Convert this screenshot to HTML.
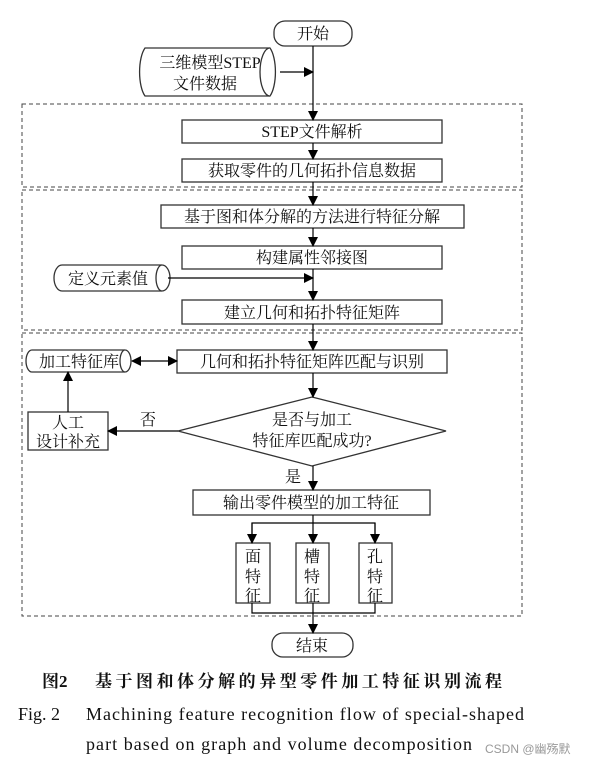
<!DOCTYPE html>
<html><head><meta charset="utf-8"><style>
html,body{margin:0;padding:0;background:#fff;}
svg{display:block;}
text{font-family:"Liberation Serif","Noto Serif CJK SC","Noto Sans CJK SC",serif;fill:#111;}
</style></head><body>
<svg width="601" height="768" viewBox="0 0 601 768" xmlns="http://www.w3.org/2000/svg">
<defs>
<marker id="a" markerWidth="10" markerHeight="10" refX="9" refY="5" orient="auto" markerUnits="userSpaceOnUse">
<path d="M0,0 L10,5 L0,10 z" fill="#000"/></marker>
<marker id="as" markerWidth="10" markerHeight="10" refX="1" refY="5" orient="auto" markerUnits="userSpaceOnUse">
<path d="M10,0 L0,5 L10,10 z" fill="#000"/></marker>
</defs>
<g fill="none" stroke="#444" stroke-width="1" stroke-dasharray="4,3">
<rect x="22" y="104" width="500" height="83"/>
<rect x="22" y="190" width="500" height="140"/>
<rect x="22" y="333" width="500" height="283"/>
</g>
<g fill="#fff" stroke="#333" stroke-width="1.3">
<rect x="274" y="21" width="78" height="25" rx="11"/>
<path d="M145,48 L270,48 A10,27 0 0 1 270,96 L145,96 A10,27 0 0 1 145,48 Z"/>
<path d="M270,48 A10,24 0 0 0 270,96"/>
<rect x="182" y="120" width="260" height="23"/>
<rect x="182" y="159" width="260" height="23"/>
<rect x="161" y="205" width="303" height="23"/>
<rect x="182" y="246" width="260" height="23"/>
<path d="M62,265 L162,265 A8,13 0 0 1 162,291 L62,291 A8,13 0 0 1 62,265 Z"/>
<path d="M162,265 A6,13 0 0 0 162,291"/>
<rect x="182" y="300" width="260" height="24"/>
<rect x="177" y="350" width="270" height="23"/>
<path d="M32,350 L125,350 A6,11 0 0 1 125,372 L32,372 A6,11 0 0 1 32,350 Z"/>
<path d="M125,350 A5,11 0 0 0 125,372"/>
<polygon points="312,397 446,431 312,466 178,431"/>
<rect x="28" y="412" width="80" height="38"/>
<rect x="193" y="490" width="237" height="25"/>
<rect x="236" y="543" width="34" height="60"/>
<rect x="296" y="543" width="33" height="60"/>
<rect x="359" y="543" width="33" height="60"/>
<rect x="272" y="633" width="81" height="24" rx="11"/>
</g>
<g stroke="#000" stroke-width="1.2" fill="none">
<line x1="313" y1="46" x2="313" y2="120" marker-end="url(#a)"/>
<line x1="280" y1="72" x2="313" y2="72" marker-end="url(#a)"/>
<line x1="313" y1="143" x2="313" y2="159" marker-end="url(#a)"/>
<line x1="313" y1="182" x2="313" y2="205" marker-end="url(#a)"/>
<line x1="313" y1="228" x2="313" y2="246" marker-end="url(#a)"/>
<line x1="313" y1="269" x2="313" y2="300" marker-end="url(#a)"/>
<line x1="168" y1="278" x2="313" y2="278" marker-end="url(#a)"/>
<line x1="313" y1="324" x2="313" y2="350" marker-end="url(#a)"/>
<line x1="132" y1="361" x2="177" y2="361" marker-start="url(#as)" marker-end="url(#a)"/>
<line x1="313" y1="373" x2="313" y2="397" marker-end="url(#a)"/>
<line x1="178" y1="431" x2="108" y2="431" marker-end="url(#a)"/>
<line x1="68" y1="412" x2="68" y2="372" marker-end="url(#a)"/>
<line x1="313" y1="466" x2="313" y2="490" marker-end="url(#a)"/>
<line x1="313" y1="515" x2="313" y2="543" marker-end="url(#a)"/>
<polyline points="252,543 252,523 375,523 375,543"/>
<line x1="252" y1="523" x2="252" y2="543" marker-end="url(#a)"/>
<line x1="375" y1="523" x2="375" y2="543" marker-end="url(#a)"/>
<polyline points="252,603 252,613 375,613 375,603"/>
<line x1="313" y1="603" x2="313" y2="633" marker-end="url(#a)"/>
</g>
<g font-size="16" text-anchor="middle">
<text x="313" y="39">开始</text>
<text x="210" y="68">三维模型STEP</text>
<text x="205" y="89">文件数据</text>
<text x="312" y="137">STEP文件解析</text>
<text x="312" y="176">获取零件的几何拓扑信息数据</text>
<text x="312" y="222">基于图和体分解的方法进行特征分解</text>
<text x="312" y="263">构建属性邻接图</text>
<text x="108" y="284">定义元素值</text>
<text x="312" y="318">建立几何和拓扑特征矩阵</text>
<text x="312" y="367">几何和拓扑特征矩阵匹配与识别</text>
<text x="79" y="367">加工特征库</text>
<text x="312" y="425">是否与加工</text>
<text x="312" y="446">特征库匹配成功?</text>
<text x="68" y="428">人工</text>
<text x="68" y="447">设计补充</text>
<text x="148" y="425">否</text>
<text x="293" y="482">是</text>
<text x="311" y="508">输出零件模型的加工特征</text>
<text x="253" y="562">面</text><text x="253" y="582">特</text><text x="253" y="601">征</text>
<text x="312" y="562">槽</text><text x="312" y="582">特</text><text x="312" y="601">征</text>
<text x="375" y="562">孔</text><text x="375" y="582">特</text><text x="375" y="601">征</text>
<text x="312" y="651">结束</text>
</g>
<text x="42" y="687" font-size="17" font-weight="bold">图2</text>
<text x="95" y="687" font-size="17" font-weight="bold" textLength="407">基于图和体分解的异型零件加工特征识别流程</text>
<text x="18" y="720" font-size="18">Fig. 2</text>
<text x="86" y="720" font-size="18" textLength="438">Machining feature recognition flow of special-shaped</text>
<text x="86" y="750" font-size="18" textLength="386">part based on graph and volume decomposition</text>
<text x="485" y="753" font-size="12" style="font-family:'Liberation Sans','Noto Sans CJK SC',sans-serif;fill:#999">CSDN @幽殇默</text>
</svg>
</body></html>
